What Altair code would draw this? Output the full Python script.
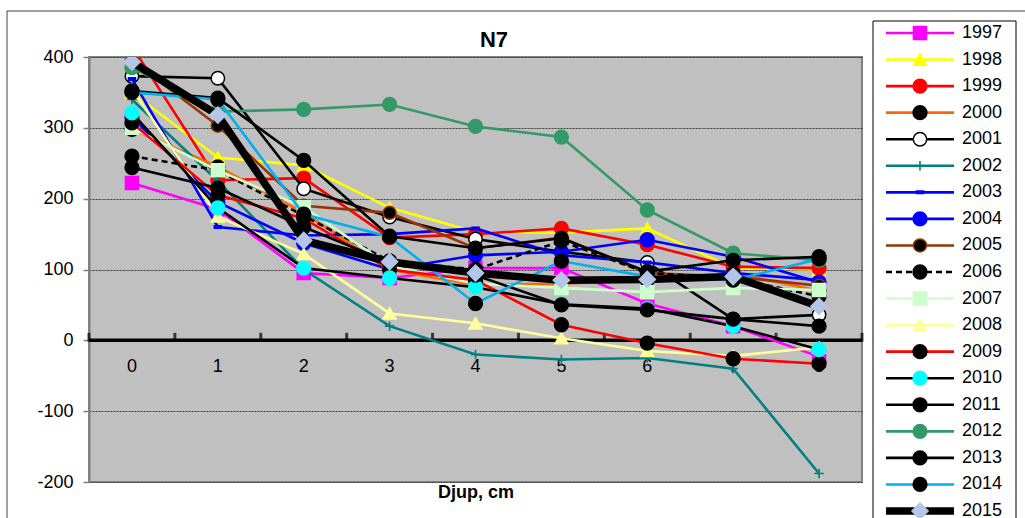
import altair as alt
import pandas as pd

FONT = "Liberation Sans"

# ---- data -------------------------------------------------------------
depth = [0, 1, 2, 3, 4, 5, 6, 7, 8]
depth_labels = ["0", "1", "2", "3", "4", "5", "6", "7", "8"]
y_ticks = [-200, -100, 0, 100, 200, 300, 400]
chart_title = "N7"

v1997 = [222, 185, 95, 88, 102, 102, 52, 20, -23]
v1998 = [350, 258, 247, 187, 153, 152, 158, 102, 100]
v1999 = [415, 226, 229, 145, 150, 158, 135, 104, 102]
v2000 = [298, 245, 180, 100, 78, 80, 85, 95, 70]
v2001 = [373, 370, 214, 174, 143, 125, 110, 30, 36]
v2002 = [340, 225, 100, 20, -20, -27, -25, -40, -188]
v2003 = [369, 160, 148, 150, 158, 120, 110, 95, 85]
v2004 = [315, 195, 137, 100, 120, 125, 142, 118, 82]
v2005 = [395, 303, 190, 180, 130, 145, 95, 90, 77]
v2006 = [260, 240, 176, 112, 100, 140, 95, 88, 62]
v2007 = [300, 240, 188, 105, 80, 74, 68, 74, 71]
v2008 = [355, 175, 122, 38, 24, 3, -15, -22, -10]
v2009 = [307, 205, 172, 100, 85, 22, -4, -26, -33]
v2010 = [321, 187, 102, 88, 75, 51, 45, 20, -13]
v2011 = [244, 215, 160, 110, 92, 50, 43, 30, 20]
v2012 = [385, 323, 326, 333, 302, 287, 184, 123, 113]
v2013 = [352, 342, 254, 147, 130, 144, 97, 113, 118]
v2014 = [350, 340, 178, 146, 52, 112, 90, 85, 115]
v2015 = [393, 318, 141, 111, 95, 85, 86, 90, 48]

years = ["1997", "1998", "1999", "2000", "2001", "2002", "2003", "2004", "2005",
         "2006", "2007", "2008", "2009", "2010", "2011", "2012", "2013", "2014", "2015"]
values = [v1997, v1998, v1999, v2000, v2001, v2002, v2003, v2004, v2005,
          v2006, v2007, v2008, v2009, v2010, v2011, v2012, v2013, v2014, v2015]

# ---- styles -----------------------------------------------------------
PLUS = "M-1,0L1,0M0,-1L0,1"
DASH = "M-1,-0.35L1,-0.35L1,0.35L-1,0.35Z"
# year: (line colour, line width, dash, shape, fill, marker stroke, size)
style = {
    "1997": ("#FF00FF", 2.6, None, "square", "#FF00FF", "#FF00FF", 170),
    "1998": ("#FFFF00", 2.6, None, "triangle-up", "#FFFF00", "#FFFF00", 170),
    "1999": ("#FF0000", 2.6, None, "circle", "#FF0000", "#FF0000", 190),
    "2000": ("#FF6600", 2.6, None, "circle", "#000000", "#000000", 190),
    "2001": ("#000000", 2.6, None, "circle", "#FFFFFF", "#000000", 180),
    "2002": ("#008080", 2.6, None, PLUS, None, "#008080", 90),
    "2003": ("#0000FF", 2.6, None, DASH, "#0000FF", "#0000FF", 50),
    "2004": ("#0000FF", 2.6, None, "circle", "#0000FF", "#0000FF", 190),
    "2005": ("#993300", 2.6, None, "circle", "#000000", "#993300", 170),
    "2006": ("#000000", 2.6, [6, 4], "circle", "#000000", "#000000", 190),
    "2007": ("#CCFFCC", 2.6, None, "square", "#CCFFCC", "#CCFFCC", 170),
    "2008": ("#FFFF99", 2.6, None, "triangle-up", "#FFFF99", "#FFFF99", 170),
    "2009": ("#FF0000", 2.6, None, "circle", "#000000", "#000000", 190),
    "2010": ("#000000", 2.6, None, "circle", "#00FFFF", "#00FFFF", 190),
    "2011": ("#000000", 2.6, None, "circle", "#000000", "#000000", 190),
    "2012": ("#339966", 2.6, None, "circle", "#339966", "#339966", 190),
    "2013": ("#000000", 2.6, None, "circle", "#000000", "#000000", 190),
    "2014": ("#00B0F0", 2.6, None, "circle", "#000000", "#000000", 190),
    "2015": ("#000000", 7.5, None, "diamond", "#B4C6E7", "#B4C6E7", 260),
}

XS = alt.Scale(domain=[-0.5, 8.5], nice=False, zero=False)
YS = alt.Scale(domain=[-200, 400], nice=False, zero=False)

x_enc = alt.X("depth:Q", scale=XS,
              axis=alt.Axis(title="Djup, cm", labels=False, ticks=False, domain=False,
                            grid=False, titleFont=FONT, titleFontSize=18,
                            titleFontWeight="bold", titleColor="black", titlePadding=1))
y_enc = alt.Y("value:Q", scale=YS,
              axis=alt.Axis(title=None, values=y_ticks, grid=True, gridColor="#404040",
                            gridDash=[2, 1], gridWidth=1.2, domain=True,
                            domainColor="#808080", domainWidth=2, ticks=True,
                            tickColor="#808080", tickSize=6, tickWidth=1.5,
                            labelFont=FONT, labelFontSize=18, labelColor="black",
                            labelPadding=10, labelExpr="datum.value + ''"))


def point_mark(year, clip):
    lc, lw, dash, shape, fill, mstroke, size = style[year]
    if fill is None:
        return dict(shape=shape, filled=False, stroke=mstroke, strokeWidth=1.6,
                    size=size, opacity=1, clip=clip)
    return dict(shape=shape, filled=True, fill=fill, stroke=mstroke, strokeWidth=1.5,
                size=size, opacity=1, clip=clip)


# ---- plot layers --------------------------------------------------------
lab_df = pd.DataFrame({"depth": depth, "label": depth_labels, "value": [0] * len(depth)})
x_labels = alt.Chart(lab_df).mark_text(font=FONT, fontSize=18, color="black", dy=27).encode(
    x=x_enc, y=y_enc, text="label:N")

zero_df = pd.DataFrame({"value": [0]})
zero_line = alt.Chart(zero_df).mark_rule(color="black", strokeWidth=3.5).encode(y=y_enc)

bounds = [d - 0.5 for d in depth] + [depth[-1] + 0.5]
tick_df = pd.DataFrame({"depth": bounds, "value": [0] * len(bounds)})
zero_ticks = alt.Chart(tick_df).mark_tick(orient="vertical", color="black", size=9,
                                          thickness=3, yOffset=-3).encode(x=x_enc, y=y_enc)

plot_layers = [x_labels, zero_line, zero_ticks]
for yr, vals in zip(years, values):
    df = pd.DataFrame({"depth": depth, "value": vals})
    lc, lw, dash, shape, fill, mstroke, size = style[yr]
    lkw = dict(color=lc, strokeWidth=lw, clip=True)
    if dash:
        lkw["strokeDash"] = dash
    plot_layers.append(alt.Chart(df).mark_line(**lkw).encode(x=x_enc, y=y_enc))
    plot_layers.append(alt.Chart(df).mark_point(**point_mark(yr, True)).encode(x=x_enc, y=y_enc))

plot = alt.layer(*plot_layers)

# ---- legend (own y scale built from the years) -------------------------
LY = alt.Y("year:N", scale=alt.Scale(type="point", domain=years, range=[-24, 454], padding=0),
           axis=None)
one = pd.DataFrame({"k": [0]})
legend_layers = [
    alt.Chart(one).mark_rect(fill="white", stroke="#000000", strokeWidth=1).encode(
        x=alt.value(784), x2=alt.value(927), y=alt.value(-36), y2=alt.value(480)),
]
for yr in years:
    lc, lw, dash, shape, fill, mstroke, size = style[yr]
    ydf = pd.DataFrame({"year": [yr]})
    rkw = dict(color=lc, strokeWidth=lw)
    if dash:
        rkw["strokeDash"] = dash
    legend_layers.append(alt.Chart(ydf).mark_rule(**rkw).encode(
        x=alt.value(797), x2=alt.value(865), y=LY))
    legend_layers.append(alt.Chart(ydf).mark_point(**point_mark(yr, False)).encode(
        x=alt.value(831), y=LY))
legend_layers.append(alt.Chart(pd.DataFrame({"year": years})).mark_text(
    font=FONT, fontSize=18, color="black", align="left", baseline="middle").encode(
    x=alt.value(873), y=LY, text="year:N"))
legend = alt.layer(*legend_layers)

frame = alt.Chart(one).mark_rect(fillOpacity=0, stroke="#404040", strokeWidth=1).encode(
    x=alt.value(-82), x2=alt.value(960), y=alt.value(-46), y2=alt.value(480))

title_df = pd.DataFrame({"t": [chart_title]})
title = alt.Chart(title_df).mark_text(font=FONT, fontSize=22, fontWeight="bold",
                                      color="black", baseline="middle").encode(
    x=alt.value(405), y=alt.value(-17), text="t:N")

chart = alt.layer(frame, plot, legend, title).resolve_scale(
    x="independent", y="independent").properties(
    width=773, height=425,
    autosize=alt.AutoSizeParams(type="none"),
    padding={"left": 89, "top": 57, "right": 163, "bottom": 36},
).configure(background="white").configure_view(fill="#C0C0C0", stroke="#808080", strokeWidth=2)

chart.save("out.html", embed_options={"renderer": "svg", "actions": False})
